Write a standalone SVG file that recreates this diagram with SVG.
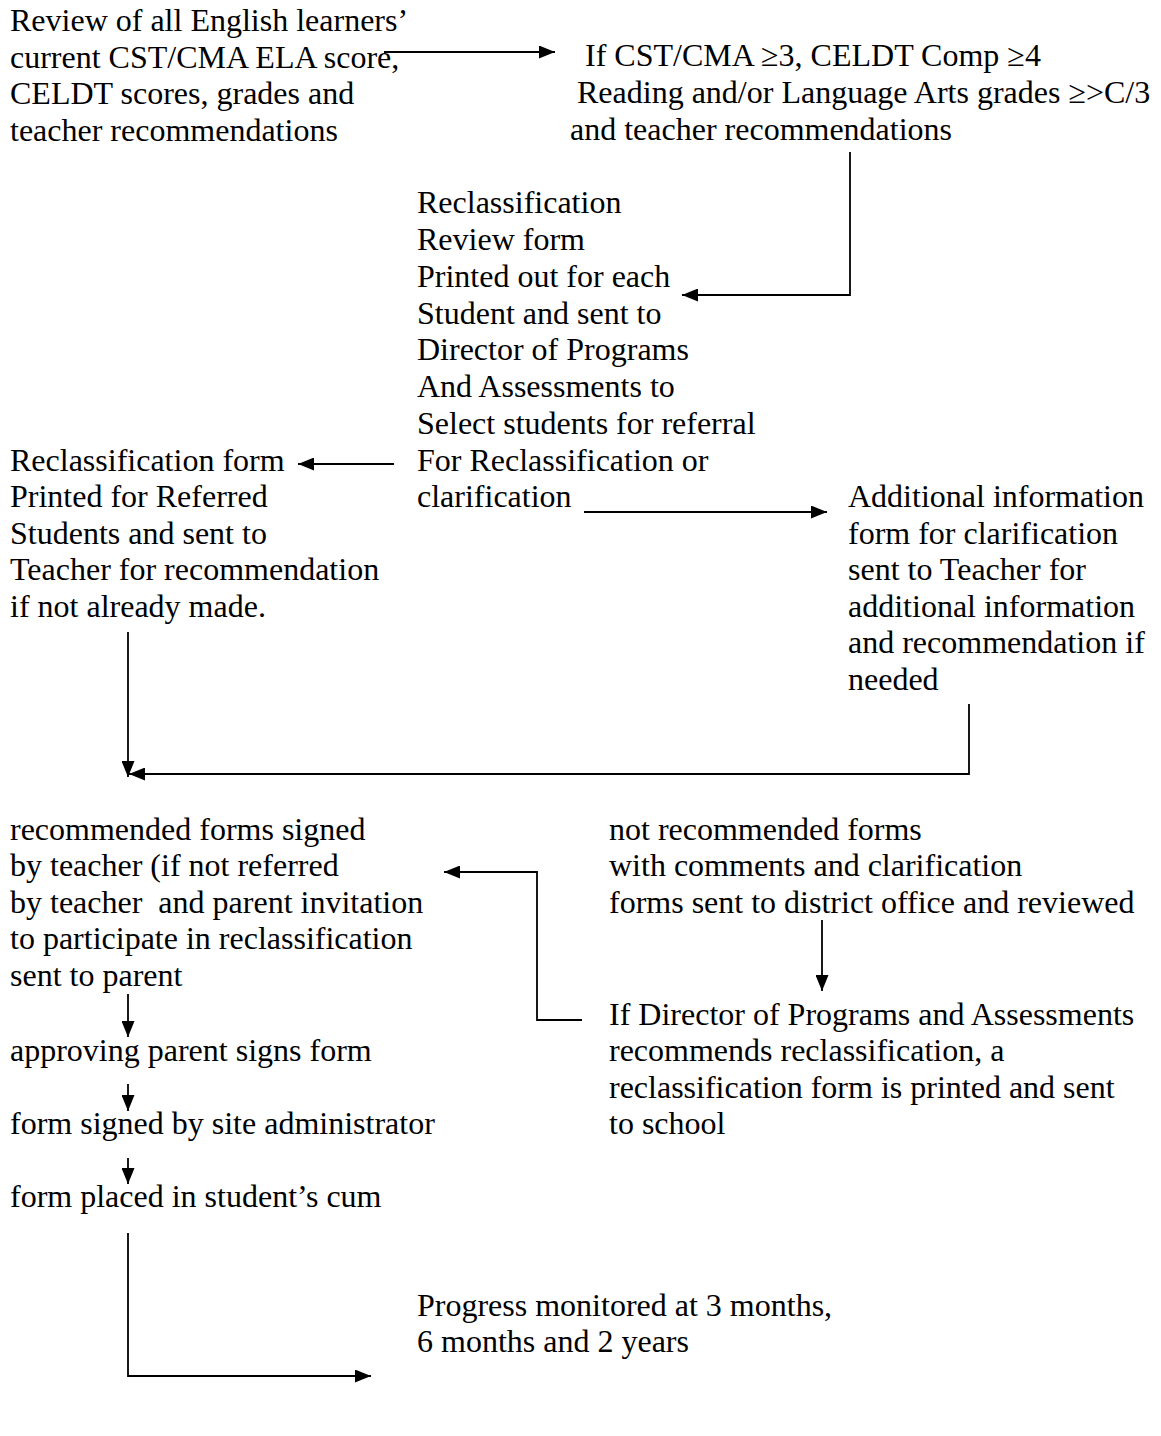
<svg xmlns="http://www.w3.org/2000/svg" width="1161" height="1436" viewBox="0 0 1161 1436">
<style>
text{font-family:"Liberation Serif","Times New Roman",serif;font-size:32px;fill:#000}
.c{fill:none;stroke:#000;stroke-width:1.8}
</style>
<defs>
<marker id="ah" markerWidth="16" markerHeight="13" refX="16" refY="6.5" orient="auto" markerUnits="userSpaceOnUse">
<path d="M0,0 L16,6.5 L0,13 Z" fill="#000"/>
</marker>
</defs>
<rect width="1161" height="1436" fill="#fff"/>
<g id="n-review">
<text x="10" y="31">Review of all English learners’</text>
<text x="10" y="67.5">current CST/CMA ELA score,</text>
<text x="10" y="104">CELDT scores, grades and</text>
<text x="10" y="140.5">teacher recommendations</text>
</g>
<g id="n-criteria">
<text x="585" y="66">If CST/CMA ≥3, CELDT Comp ≥4</text>
<text x="577" y="103">Reading and/or Language Arts grades ≥&gt;C/3</text>
<text x="570" y="140">and teacher recommendations</text>
</g>
<g id="n-reviewform">
<text x="417" y="213">Reclassification</text>
<text x="417" y="250">Review form</text>
<text x="417" y="287">Printed out for each</text>
<text x="417" y="324">Student and sent to</text>
<text x="417" y="360">Director of Programs</text>
<text x="417" y="397">And Assessments to</text>
<text x="417" y="434">Select students for referral</text>
<text x="417" y="471">For Reclassification or</text>
<text x="417" y="507">clarification</text>
</g>
<g id="n-reclassform">
<text x="10" y="471">Reclassification form</text>
<text x="10" y="507">Printed for Referred</text>
<text x="10" y="544">Students and sent to</text>
<text x="10" y="580">Teacher for recommendation</text>
<text x="10" y="617">if not already made.</text>
</g>
<g id="n-additional">
<text x="848" y="507">Additional information</text>
<text x="848" y="544">form for clarification</text>
<text x="848" y="580">sent to Teacher for</text>
<text x="848" y="617">additional information</text>
<text x="848" y="653">and recommendation if</text>
<text x="848" y="690">needed</text>
</g>
<g id="n-recommended">
<text x="10" y="840">recommended forms signed</text>
<text x="10" y="876">by teacher (if not referred</text>
<text x="10" y="913" xml:space="preserve">by teacher  and parent invitation</text>
<text x="10" y="949">to participate in reclassification</text>
<text x="10" y="986">sent to parent</text>
</g>
<g id="n-parent"><text x="10" y="1061">approving parent signs form</text></g>
<g id="n-admin"><text x="10" y="1134">form signed by site administrator</text></g>
<g id="n-cum"><text x="10" y="1207">form placed in student’s cum</text></g>
<g id="n-notrec">
<text x="609" y="840">not recommended forms</text>
<text x="609" y="876">with comments and clarification</text>
<text x="609" y="913">forms sent to district office and reviewed</text>
</g>
<g id="n-director">
<text x="609" y="1025">If Director of Programs and Assessments</text>
<text x="609" y="1061">recommends reclassification, a</text>
<text x="609" y="1098">reclassification form is printed and sent</text>
<text x="609" y="1134">to school</text>
</g>
<g id="n-progress">
<text x="417" y="1316">Progress monitored at 3 months,</text>
<text x="417" y="1352">6 months and 2 years</text>
</g>
<g id="connectors">
<path class="c" d="M384,52 H555" marker-end="url(#ah)"/>
<path class="c" d="M850,152 V295 H682" marker-end="url(#ah)"/>
<path class="c" d="M394,464 H298" marker-end="url(#ah)"/>
<path class="c" d="M584,512 H827" marker-end="url(#ah)"/>
<path class="c" d="M128,632 V777" marker-end="url(#ah)"/>
<path class="c" d="M969,704 V774 H129" marker-end="url(#ah)"/>
<path class="c" d="M582,1020 H537 V872 H444" marker-end="url(#ah)"/>
<path class="c" d="M822,920 V991" marker-end="url(#ah)"/>
<path class="c" d="M128,994 V1037" marker-end="url(#ah)"/>
<path class="c" d="M128,1084 V1111" marker-end="url(#ah)"/>
<path class="c" d="M128,1158 V1184" marker-end="url(#ah)"/>
<path class="c" d="M128,1233 V1376 H371" marker-end="url(#ah)"/>
</g>
</svg>
